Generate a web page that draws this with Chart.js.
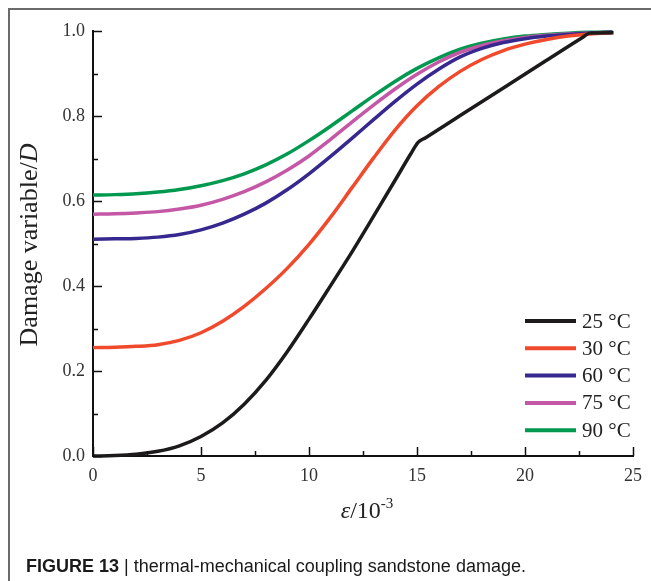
<!DOCTYPE html>
<html>
<head>
<meta charset="utf-8">
<script src="https://cdn.jsdelivr.net/npm/chart.js@4.4.0/dist/chart.umd.min.js"></script>
<style>
html,body{margin:0;padding:0;background:#fff;}
canvas{display:block;}
</style>
</head>
<body>
<canvas id="c" width="651" height="581"></canvas>
<script>
// ---- data ----
const seriesLabels = ['25 °C', '30 °C', '60 °C', '75 °C', '90 °C'];
const seriesColors = ['#1c1a1a', '#f1492b', '#36288f', '#c558a6', '#01994f'];

const strain25 = [0,1,2,3,4,5,6,7,8,9,10,11,12,13,14,14.7,15.05,15.4,17,19,21,22.7,23,24.1];
const damage25 = [0,0.001,0.004,0.011,0.024,0.046,0.078,0.122,0.178,0.246,0.322,0.401,0.481,0.565,0.65,0.71,0.738,0.749,0.801,0.866,0.931,0.986,0.995,0.996];

const strainC = [0,1,2,3,4,5,6,7,8,9,10,11,12,13,14,15,16,17,18,19,20,21,22,23,24.05];
const damage30 = [0.255,0.256,0.258,0.262,0.272,0.29,0.317,0.352,0.394,0.442,0.498,0.562,0.632,0.702,0.768,0.824,0.869,0.905,0.933,0.954,0.969,0.98,0.988,0.993,0.996];
const damage60 = [0.51,0.511,0.512,0.515,0.521,0.532,0.548,0.569,0.595,0.627,0.664,0.705,0.748,0.792,0.835,0.875,0.91,0.939,0.959,0.973,0.982,0.988,0.992,0.995,0.997];
const damage75 = [0.569,0.57,0.572,0.575,0.581,0.59,0.604,0.622,0.645,0.673,0.706,0.745,0.786,0.826,0.864,0.898,0.927,0.95,0.966,0.977,0.985,0.99,0.993,0.995,0.997];
const damage90 = [0.614,0.615,0.617,0.621,0.627,0.636,0.648,0.664,0.685,0.711,0.742,0.776,0.812,0.848,0.882,0.912,0.937,0.957,0.971,0.981,0.988,0.992,0.995,0.997,0.998];

const xTicks = [0,5,10,15,20,25];
const yTicks = [0,0.2,0.4,0.6,0.8,1.0];

function pts(xs, ys){ return xs.map((x,i)=>({x:x, y:ys[i]})); }

const seriesData = [
  pts(strain25, damage25),
  pts(strainC, damage30),
  pts(strainC, damage60),
  pts(strainC, damage75),
  pts(strainC, damage90)
];

const SERIF = '"Liberation Serif", "Times New Roman", serif';
const SANS = '"Liberation Sans", Arial, sans-serif';

const decor = {
  id: 'decor',
  beforeDraw(chart){
    const ctx = chart.ctx;
    ctx.save();
    ctx.fillStyle = '#fff';
    ctx.fillRect(0,0,chart.width,chart.height);
    ctx.strokeStyle = '#6a6a6a';
    ctx.lineWidth = 2;
    ctx.beginPath();
    ctx.moveTo(9, 581);
    ctx.lineTo(9, 9);
    ctx.lineTo(651, 9);
    ctx.stroke();
    ctx.restore();
  },
  afterDraw(chart){
    const ctx = chart.ctx;
    const xs = chart.scales.x, ys = chart.scales.y;
    const a = chart.chartArea;
    ctx.save();
    // inward ticks
    ctx.strokeStyle = '#111';
    ctx.lineWidth = 1.5;
    ctx.beginPath();
    for (let i=0;i<=10;i++){
      const v = i/10;
      const py = Math.round(ys.getPixelForValue(v))+0.5;
      const len = (i%2===0)?9:5;
      ctx.moveTo(a.left, py); ctx.lineTo(a.left+len, py);
    }
    for (let i=0;i<=10;i++){
      const v = i*2.5;
      const px = Math.round(xs.getPixelForValue(v))+0.5;
      const len = (i%2===0)?9:5;
      ctx.moveTo(px, a.bottom); ctx.lineTo(px, a.bottom-len);
    }
    ctx.stroke();

    // legend
    const lx0 = 525, lx1 = 576, ly0 = 321, ldy = 27.3;
    ctx.font = '21px ' + SERIF;
    ctx.textBaseline = 'middle';
    ctx.textAlign = 'left';
    chart.data.datasets.forEach((ds,i)=>{
      const y = ly0 + i*ldy;
      ctx.strokeStyle = ds.borderColor;
      ctx.lineWidth = 4;
      ctx.beginPath(); ctx.moveTo(lx0,y); ctx.lineTo(lx1,y); ctx.stroke();
      ctx.fillStyle = '#222';
      ctx.fillText(ds.label, 582, y+1);
    });

    // x title: ε/10^-3
    ctx.textBaseline = 'alphabetic';
    const f1 = 'italic 24px ' + SERIF, f2 = '24px ' + SERIF, f3 = '15px ' + SERIF;
    ctx.font = f1; const w1 = ctx.measureText('ε').width;
    ctx.font = f2; const w2 = ctx.measureText('/10').width;
    ctx.font = f3; const w3 = ctx.measureText('-3').width;
    let sx = 367 - (w1+w2+w3)/2;
    const by = 518;
    ctx.fillStyle = '#222';
    ctx.font = f1; ctx.fillText('ε', sx, by); sx += w1;
    ctx.font = f2; ctx.fillText('/10', sx, by); sx += w2;
    ctx.font = f3; ctx.fillText('-3', sx, by-10);

    // y title
    const g1 = 'italic 26px ' + SERIF, g2 = '26px ' + SERIF;
    ctx.save();
    ctx.translate(37, 245);
    ctx.rotate(-Math.PI/2);
    const t1 = 'Damage variable/';
    ctx.font = g2; const v1 = ctx.measureText(t1).width;
    ctx.font = g1; const v2 = ctx.measureText('D').width;
    let tx = -(v1+v2)/2;
    ctx.font = g2; ctx.fillText(t1, tx, 0); tx += v1;
    ctx.font = g1; ctx.fillText('D', tx, 0);
    ctx.restore();

    // caption
    ctx.fillStyle = '#1a1a1a';
    const c1 = 'bold 18px ' + SANS, c2 = '18px ' + SANS;
    ctx.font = c1; const cw = ctx.measureText('FIGURE 13 ').width;
    ctx.fillText('FIGURE 13 ', 26, 572);
    ctx.font = c2;
    ctx.fillText('| thermal-mechanical coupling sandstone damage.', 26+cw, 572);
    ctx.restore();
  }
};

new Chart(document.getElementById('c'), {
  type: 'line',
  data: {
    datasets: seriesData.map((d,i)=>({
      label: seriesLabels[i],
      data: d,
      borderColor: seriesColors[i],
      backgroundColor: seriesColors[i],
      borderWidth: 3.5,
      pointRadius: 0,
      fill: false,
      cubicInterpolationMode: 'monotone',
      clip: 6
    }))
  },
  options: {
    responsive: false,
    animation: false,
    devicePixelRatio: 1,
    layout: { padding: { left: 0, right: 10, top: 31, bottom: 0 } },
    plugins: { legend: { display: false }, tooltip: { enabled: false } },
    scales: {
      x: {
        type: 'linear',
        min: 0, max: 25,
        afterFit(s){ s.height = 125; },
        afterBuildTicks(s){ s.ticks = xTicks.map(v=>({value:v})); },
        grid: { display: true, drawOnChartArea: false, drawTicks: false },
        border: { display: true, color: '#111', width: 2 },
        ticks: { padding: 9, color: '#333', font: { family: SERIF, size: 18 }, maxRotation: 0, callback: v => String(v) }
      },
      y: {
        type: 'linear',
        min: 0, max: 1,
        afterFit(s){ s.width = 93; },
        afterBuildTicks(s){ s.ticks = yTicks.map(v=>({value:v})); },
        grid: { display: true, drawOnChartArea: false, drawTicks: false },
        border: { display: true, color: '#111', width: 2 },
        ticks: { padding: 8, color: '#333', font: { family: SERIF, size: 18 }, callback: v => v.toFixed(1) }
      }
    }
  },
  plugins: [decor]
});
</script>
</body>
</html>
